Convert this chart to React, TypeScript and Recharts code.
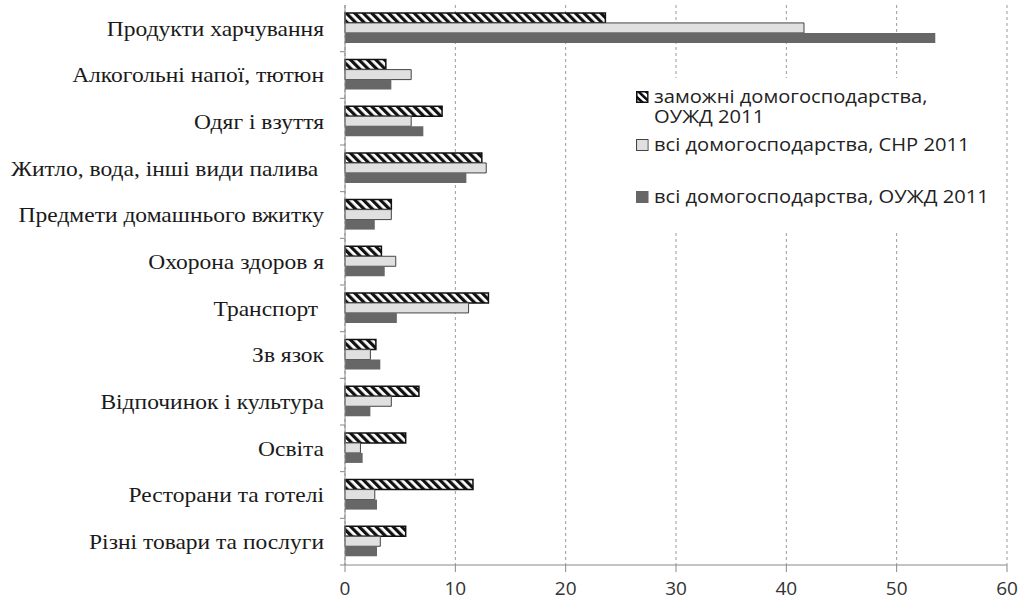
import { BarChart, Bar, XAxis, YAxis, CartesianGrid, Legend } from 'recharts';

const categories = [
  'Продукти харчування',
  'Алкогольні напої, тютюн',
  'Одяг і взуття',
  'Житло, вода, інші види палива\u00a0',
  'Предмети домашнього вжитку',
  'Охорона здоров я',
  'Транспорт\u00a0',
  'Зв язок',
  'Відпочинок і культура',
  'Освіта',
  'Ресторани та готелі',
  'Різні товари та послуги',
];

// заможні домогосподарства, ОУЖД 2011
const wealthy = [23.6, 3.7, 8.8, 12.4, 4.2, 3.3, 13.0, 2.8, 6.7, 5.5, 11.6, 5.5];
// всі домогосподарства, СНР 2011
const allSnr = [41.6, 6.0, 6.0, 12.8, 4.2, 4.6, 11.2, 2.3, 4.2, 1.4, 2.7, 3.2];
// всі домогосподарства, ОУЖД 2011
const allOuzhd = [53.5, 4.2, 7.1, 11.0, 2.7, 3.6, 4.7, 3.2, 2.3, 1.6, 2.9, 2.9];

const xTicks = [0, 10, 20, 30, 40, 50, 60];

const seriesNames = [
  'заможні домогосподарства, ОУЖД 2011',
  'всі домогосподарства, СНР 2011',
  'всі домогосподарства, ОУЖД 2011',
];

const data = categories.map((name, i) => ({
  name,
  wealthy: wealthy[i],
  allSnr: allSnr[i],
  allOuzhd: allOuzhd[i],
}));

const W = 1020;
const H = 597;
const TOP = 5;
const AXIS_H = 32;
const BAND = (H - TOP - AXIS_H) / categories.length;

// serif labels, slightly stretched like the scanned original
function CategoryTick(props: any) {
  const { x, y, payload } = props;
  return (
    <g>
      <text
        transform={`translate(${x - 21},${y}) scale(1.12,1)`}
        dy="0.35em"
        textAnchor="end"
        fontFamily="'Liberation Serif', 'Times New Roman', serif"
        fontSize={21}
        fill="#1a1a1a"
      >
        {payload.value}
      </text>
      <line x1={x - 5} x2={x} y1={y + BAND / 2} y2={y + BAND / 2} stroke="#888" />
    </g>
  );
}

function Marker({ kind }: { kind: number }) {
  return (
    <svg width={12} height={12} style={{ flex: 'none', marginRight: 5, marginTop: 5 }}>
      <defs>
        <pattern id="hatchLegend" width="5" height="5" patternUnits="userSpaceOnUse" patternTransform="rotate(-45)">
          <rect width="5" height="5" fill="#fff" />
          <rect width="2.5" height="5" fill="#111" />
        </pattern>
      </defs>
      {kind === 0 && <rect x={0.75} y={0.75} width={10.5} height={10.5} fill="url(#hatchLegend)" stroke="#111" strokeWidth={1.5} />}
      {kind === 1 && <rect x={0.5} y={0.5} width={11} height={11} fill="#e0e0e0" stroke="#444" />}
      {kind === 2 && <rect x={0} y={0} width={12} height={12} fill="#676767" />}
    </svg>
  );
}

function renderLegend() {
  const rowStyle = { display: 'flex', alignItems: 'flex-start' } as const;
  return (
    <div style={{ background: '#fff', padding: '8px 0 26px 6px' }}>
      <div
        style={{
          fontFamily: "'Open Sans', sans-serif",
          fontSize: 19,
          color: '#222',
          lineHeight: '20px',
          transform: 'scaleX(1.06)',
          transformOrigin: 'left top',
        }}
      >
        <div style={rowStyle}>
          <Marker kind={0} />
          <div>
            заможні домогосподарства,
            <br />
            ОУЖД 2011
          </div>
        </div>
        <div style={{ ...rowStyle, marginTop: 8 }}>
          <Marker kind={1} />
          <div>{seriesNames[1]}</div>
        </div>
        <div style={{ ...rowStyle, marginTop: 32 }}>
          <Marker kind={2} />
          <div>{seriesNames[2]}</div>
        </div>
      </div>
    </div>
  );
}

export default function App() {
  return (
    <div style={{ position: 'absolute', left: 0, top: 0, background: '#fff' }}>
      <BarChart
        width={W}
        height={H}
        data={data}
        layout="vertical"
        margin={{ top: TOP, right: 13, bottom: 0, left: 0 }}
        barCategoryGap="17%"
        barGap={0}
      >
        <defs>
          <pattern id="hatch" width="6" height="6" patternUnits="userSpaceOnUse" patternTransform="rotate(-45)">
            <rect width="6" height="6" fill="#fff" />
            <rect width="3.2" height="6" fill="#111" />
          </pattern>
        </defs>
        <CartesianGrid horizontal={false} stroke="#9a9a9a" strokeDasharray="3 3" />
        <XAxis
          type="number"
          domain={[0, 60]}
          ticks={xTicks}
          height={AXIS_H}
          stroke="#888"
          tickSize={7}
          tickMargin={10}
          tick={{ fill: '#333', fontSize: 19, fontFamily: "'Open Sans', sans-serif" }}
        />
        <YAxis
          type="category"
          dataKey="name"
          width={345}
          stroke="#888"
          tickLine={false}
          tickSize={0}
          tickMargin={0}
          tick={<CategoryTick />}
          interval={0}
        />
        <Legend
          layout="vertical"
          align="center"
          verticalAlign="middle"
          wrapperStyle={{ left: 630, top: 78, width: 370 }}
          content={renderLegend}
        />
        <Bar dataKey="wealthy" name={seriesNames[0]} fill="url(#hatch)" stroke="#111" strokeWidth={1.5} isAnimationActive={false} />
        <Bar dataKey="allSnr" name={seriesNames[1]} fill="#e0e0e0" stroke="#444" strokeWidth={1} isAnimationActive={false} />
        <Bar dataKey="allOuzhd" name={seriesNames[2]} fill="#676767" isAnimationActive={false} />
      </BarChart>
    </div>
  );
}
